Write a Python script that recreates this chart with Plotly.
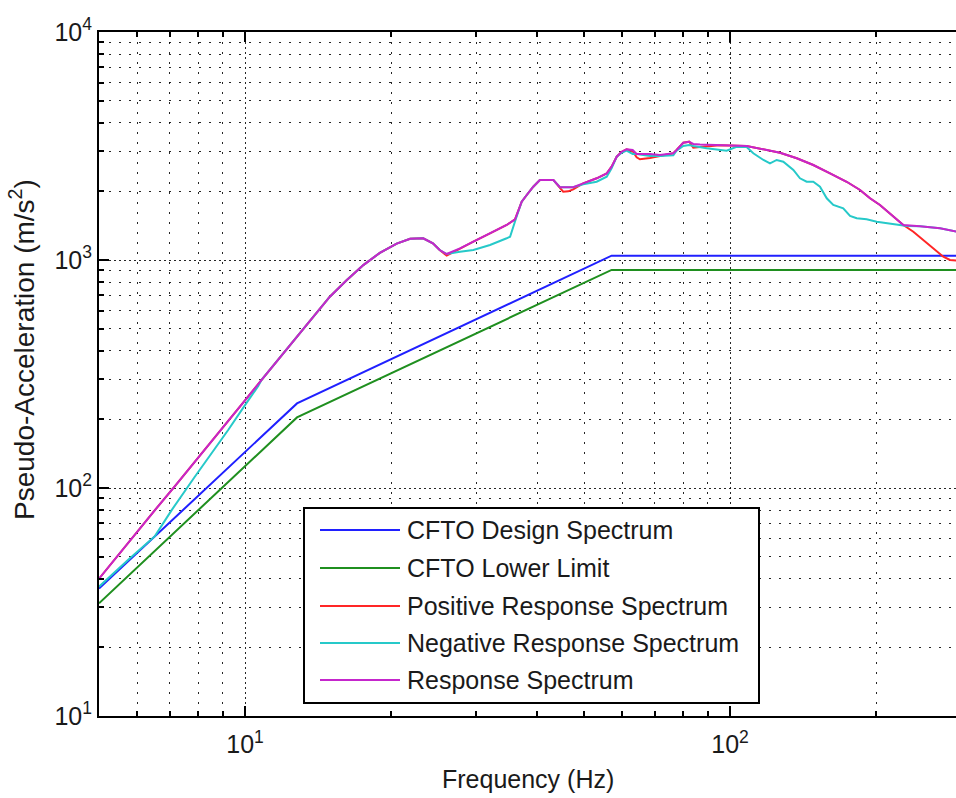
import math
import plotly.graph_objects as go

# ---------------- data ----------------
design_f = [5.0, 12.8, 57.0, 300.0]
design_a = [36.2, 235, 1045, 1045]

lower_f = [5.0, 12.8, 57.0, 300.0]
lower_a = [31.2, 204, 905, 905]

pos_f = [5.0, 5.48, 6.03, 6.52, 7.17, 7.88, 8.54, 9.24, 10.0, 10.82,
         11.71, 12.68, 13.83, 14.96, 16.2, 17.54, 18.97, 20.55, 21.9, 23.3,
         24.4, 25.2, 26.05, 27.75, 29.57, 32.0, 34.64, 36.04, 37.2, 38.1,
         39.3, 40.55, 43.23, 44.6, 45.3, 46.4, 47.5, 49.8, 53.1, 55.7,
         57.0, 58.4, 59.8, 61.2, 63.0, 64.2, 65.2, 68.4, 71.7, 76.4,
         77.6, 80.1, 82.4, 84.0, 86.7, 95.3, 108.2, 119.1, 126.8, 137.3,
         148.5, 160.8, 174.0, 185.4, 194.4, 203.8, 217.1, 227.7, 238.8, 250.4,
         262.5, 275.3, 284.2, 300.0]
pos_a = [40, 51, 65, 80, 102, 130, 161, 197, 242, 298,
         366, 450, 560, 690, 815, 950, 1075, 1180, 1240, 1245,
         1183, 1106, 1045, 1125, 1203, 1309, 1424, 1508, 1802, 1928,
         2097, 2244, 2244, 2070, 1993, 2000, 2040, 2169, 2282, 2399,
         2567, 2838, 2985, 3058, 3000, 2821, 2764, 2800, 2860, 2938,
         3037, 3269, 3303, 3110, 3130, 3190, 3162, 3037, 2955, 2793,
         2610, 2399, 2204, 2028, 1865, 1743, 1549, 1424, 1330, 1224,
         1125, 1034, 1000, 990]

neg_f = [5.0, 5.745, 6.52, 7.06, 7.88, 8.54, 9.24, 10.0, 10.65, 10.82,
         11.71, 12.68, 13.83, 14.96, 16.2, 17.54, 18.97, 20.55, 21.9, 23.3,
         24.4, 25.2, 26.05, 27.75, 29.57, 32.0, 34.64, 35.2, 36.2, 37.2,
         38.1, 39.3, 40.55, 43.23, 44.6, 47.5, 49.8, 53.1, 55.7, 57.0,
         58.4, 59.8, 61.2, 63.0, 64.2, 68.4, 71.7, 76.4, 77.6, 80.1,
         82.4, 84.0, 89.5, 98.4, 103.2, 108.2, 111.7, 117.2, 120.9, 124.8,
         128.8, 135.1, 139.4, 143.9, 148.5, 153.3, 158.3, 163.3, 171.2, 176.8,
         182.5, 191.3, 200.7, 210.4, 224.2, 231.4, 246.5, 271.0, 300.0]
neg_a = [36.9, 48.5, 61.5, 80, 112, 142, 180, 231, 280, 298,
         366, 450, 560, 690, 815, 950, 1075, 1180, 1240, 1245,
         1183, 1106, 1062, 1088, 1106, 1164, 1245, 1265, 1520, 1802,
         1928, 2097, 2244, 2244, 2084, 2084, 2150, 2204, 2320, 2523,
         2838, 2955, 3016, 2917, 2917, 2858, 2858, 2879, 3016, 3162,
         3195, 3162, 3090, 3016, 3140, 3130, 2938, 2746, 2655, 2746,
         2698, 2483, 2282, 2204, 2204, 2097, 1865, 1743, 1685, 1560,
         1524, 1508, 1472, 1449, 1424, 1409, 1405, 1377, 1320]

resp_f = [5.0, 5.48, 6.03, 6.52, 7.17, 7.88, 8.54, 9.24, 10.0, 10.82,
          11.71, 12.68, 13.83, 14.96, 16.2, 17.54, 18.97, 20.55, 21.9, 23.3,
          24.4, 25.2, 26.05, 27.75, 29.57, 32.0, 34.64, 36.04, 37.2, 38.1,
          39.3, 40.55, 43.23, 44.6, 47.5, 49.8, 53.1, 55.7, 57.0, 58.4,
          59.8, 61.2, 63.0, 64.2, 68.4, 71.7, 76.4, 77.6, 80.1, 82.4,
          84.0, 86.7, 95.3, 108.2, 119.1, 126.8, 137.3, 148.5, 160.8, 174.0,
          185.4, 194.4, 203.8, 217.1, 227.7, 246.5, 271.0, 300.0]
resp_a = [40, 51, 65, 80, 102, 130, 161, 197, 242, 298,
          366, 450, 560, 690, 815, 950, 1075, 1180, 1240, 1245,
          1183, 1106, 1062, 1125, 1203, 1309, 1424, 1508, 1802, 1928,
          2097, 2244, 2244, 2084, 2084, 2169, 2282, 2399, 2567, 2838,
          2985, 3058, 3037, 2917, 2917, 2887, 2938, 3037, 3269, 3303,
          3227, 3210, 3190, 3162, 3037, 2955, 2793, 2610, 2399, 2204,
          2028, 1865, 1743, 1549, 1424, 1405, 1377, 1320]

series_names = ["CFTO Design Spectrum", "CFTO Lower Limit",
                "Positive Response Spectrum", "Negative Response Spectrum",
                "Response Spectrum"]
series_colors = ["#2020ff", "#1f8f1f", "#ff2626", "#26c9c9", "#c526cc"]

x_tick_vals = [10, 100]
x_tick_text = ["10<sup>1</sup>", "10<sup>2</sup>"]
x_minor_vals = [6, 7, 8, 9, 20, 30, 40, 50, 60, 70, 80, 90, 200]
y_tick_vals = [10, 100, 1000, 10000]
y_tick_text = ["10<sup>1</sup>", "10<sup>2</sup>", "10<sup>3</sup>", "10<sup>4</sup>"]
y_minor_vals = [20, 30, 40, 50, 60, 70, 80, 90,
                200, 300, 400, 500, 600, 700, 800, 900,
                2000, 3000, 4000, 5000, 6000, 7000, 8000, 9000]

x_title = "Frequency (Hz)"
y_title = "Pseudo-Acceleration (m/s<sup>2</sup>)"

# ---------------- layout geometry ----------------
W, H = 956, 798
L, R, T, B = 99, 0, 32, 82
PW, PH = W - L - R, H - T - B
PX_PER_DECADE = 485.0
x_lo = math.log10(5.0)
x_hi = x_lo + PW / PX_PER_DECADE

FONT = "Arial, 'Liberation Sans', sans-serif"
TXT = "#1a1a1a"


def px2x(px):
    return (px - L) / PW


def py2y(py):
    return (H - B - py) / PH


fig = go.Figure()
all_series = [(design_f, design_a), (lower_f, lower_a), (pos_f, pos_a),
              (neg_f, neg_a), (resp_f, resp_a)]
for (fx, ay), name, col in zip(all_series, series_names, series_colors):
    assert len(fx) == len(ay), name
    fig.add_trace(go.Scatter(x=fx, y=ay, mode="lines", name=name,
                             line=dict(color=col, width=2),
                             showlegend=False, hoverinfo="skip"))

grid_major = "rgba(0,0,0,0.85)"
common = dict(
    type="log", showline=True, linecolor="black", linewidth=2,
    ticks="inside", ticklen=10, tickwidth=1.5, tickcolor="black",
    showgrid=True, gridcolor=grid_major, gridwidth=1, griddash="2px,3px",
    zeroline=False, tickfont=dict(family=FONT, size=25, color=TXT),
)

fig.update_xaxes(**common, range=[x_lo, x_hi], tickmode="array",
                 tickvals=x_tick_vals, ticktext=x_tick_text, mirror="allticks",
                 ticklabelstandoff=5,
                 minor=dict(tickmode="array", tickvals=x_minor_vals, ticks="inside",
                            ticklen=5, tickwidth=1.5, tickcolor="black",
                            showgrid=True, gridcolor=grid_major, gridwidth=1,
                            griddash="2px,8px"))
fig.update_yaxes(**common, range=[1, 4], tickmode="array",
                 tickvals=y_tick_vals, ticktext=y_tick_text, mirror=False,
                 minor=dict(tickmode="array", tickvals=y_minor_vals, ticks="inside",
                            ticklen=5, tickwidth=1.5, tickcolor="black",
                            showgrid=True, gridcolor=grid_major, gridwidth=1,
                            griddash="2px,8px"))

# legend box drawn by hand to match the reference look
shapes = [dict(type="rect", xref="paper", yref="paper",
               x0=px2x(304), x1=px2x(759), y0=py2y(703), y1=py2y(508),
               line=dict(color="black", width=2), fillcolor="white", layer="above")]
annotations = []
row_y = [530, 568, 606, 643, 680]
for name, col, ry in zip(series_names, series_colors, row_y):
    shapes.append(dict(type="line", xref="paper", yref="paper",
                       x0=px2x(320), x1=px2x(400), y0=py2y(ry), y1=py2y(ry),
                       line=dict(color=col, width=2), layer="above"))
    annotations.append(dict(xref="paper", yref="paper", x=px2x(405), y=py2y(ry),
                            xanchor="left", yanchor="middle", showarrow=False,
                            text=name, font=dict(family=FONT, size=25, color=TXT)))

annotations.append(dict(xref="paper", yref="paper", x=0.5, y=py2y(779),
                        xanchor="center", yanchor="middle", showarrow=False,
                        text=x_title, font=dict(family=FONT, size=25, color=TXT)))
annotations.append(dict(xref="paper", yref="paper", x=px2x(22), y=py2y(350),
                        xanchor="center", yanchor="middle", showarrow=False,
                        textangle=-90,
                        text=y_title, font=dict(family=FONT, size=28, color=TXT)))

fig.update_layout(
    width=W, height=H, autosize=False,
    margin=dict(l=L, r=R, t=T, b=B, pad=0),
    paper_bgcolor="white", plot_bgcolor="white",
    showlegend=False, shapes=shapes, annotations=annotations,
    font=dict(family=FONT, size=25, color=TXT),
)

fig.write_html("out.html", config={"displayModeBar": False})
